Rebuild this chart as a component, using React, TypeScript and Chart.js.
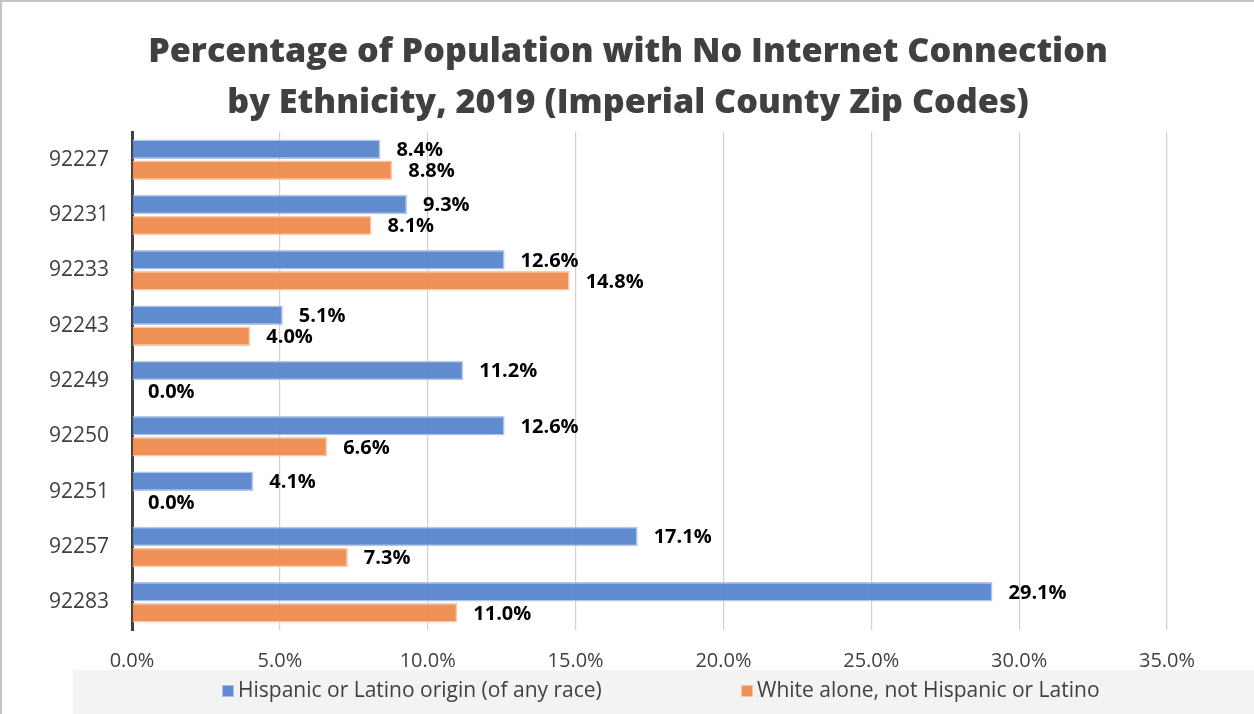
import React, { useEffect, useRef } from "react";
import { Chart, registerables } from "chart.js";

Chart.register(...registerables);

const zipCodes = ["92227", "92231", "92233", "92243", "92249", "92250", "92251", "92257", "92283"];
const hispanicValues = [8.4, 9.3, 12.6, 5.1, 11.2, 12.6, 4.1, 17.1, 29.1];
const whiteValues = [8.8, 8.1, 14.8, 4.0, 0.0, 6.6, 0.0, 7.3, 11.0];
const seriesNames = ["Hispanic or Latino origin (of any race)", "White alone, not Hispanic or Latino"];
const titleLines = ["Percentage of Population with No Internet Connection", "by Ethnicity, 2019 (Imperial County Zip Codes)"];

const W = 1254;
const H = 714;
const FONT = "'Open Sans', 'Liberation Sans', sans-serif";
const BLUE = "rgba(91,134,205,0.96)";
const ORANGE = "rgba(239,142,80,0.96)";

const decorPlugin = {
  id: "decor",
  beforeDraw(chart: any) {
    const ctx = chart.ctx;
    ctx.save();
    ctx.fillStyle = "#ffffff";
    ctx.fillRect(0, 0, W, H);
    ctx.fillStyle = "#c4c4c4";
    ctx.fillRect(0, 0, W, 2);
    ctx.fillRect(0, 0, 2, H);
    // legend band
    ctx.fillStyle = "#f3f3f3";
    ctx.fillRect(73, 670, W - 73, H - 670);
    ctx.restore();
  },
  afterDraw(chart: any) {
    const ctx = chart.ctx;
    ctx.save();
    // title
    ctx.fillStyle = "#404040";
    ctx.textAlign = "center";
    ctx.textBaseline = "alphabetic";
    let size = 36;
    ctx.font = `800 ${size}px ${FONT}`;
    const w = ctx.measureText(titleLines[0]).width;
    size = size * 960 / w;
    ctx.font = `800 ${size}px ${FONT}`;
    ctx.fillText(titleLines[0], 628, 62);
    ctx.fillText(titleLines[1], 628, 113);
    // legend
    ctx.font = `21px ${FONT}`;
    ctx.textAlign = "left";
    ctx.textBaseline = "middle";
    const items = [
      { x: 222, color: BLUE, border: "#a9bfe6", text: seriesNames[0] },
      { x: 741, color: ORANGE, border: "#f6c6a4", text: seriesNames[1] },
    ];
    items.forEach((it) => {
      ctx.fillStyle = it.color;
      ctx.fillRect(it.x, 685, 12, 12);
      ctx.strokeStyle = it.border;
      ctx.lineWidth = 1;
      ctx.strokeRect(it.x + 0.5, 685.5, 11, 11);
      ctx.fillStyle = "#404040";
      ctx.fillText(it.text, it.x + 16, 691);
    });
    ctx.restore();
  },
  afterDatasetsDraw(chart: any) {
    const ctx = chart.ctx;
    ctx.save();
    ctx.font = `bold 20px ${FONT}`;
    ctx.fillStyle = "#000000";
    ctx.textAlign = "left";
    ctx.textBaseline = "middle";
    chart.data.datasets.forEach((ds: any, di: number) => {
      const meta = chart.getDatasetMeta(di);
      meta.data.forEach((bar: any, i: number) => {
        const v = ds.data[i] as number;
        ctx.fillText(v.toFixed(1) + "%", bar.x + 16, bar.y + 1);
      });
    });
    ctx.restore();
  },
};

export default function App() {
  const ref = useRef<HTMLCanvasElement | null>(null);
  useEffect(() => {
    if (!ref.current) return;
    const chart = new Chart(ref.current, {
      type: "bar",
      data: {
        labels: zipCodes,
        datasets: [
          {
            label: seriesNames[0],
            data: hispanicValues,
            backgroundColor: BLUE,
            borderColor: "rgba(170,192,232,0.9)",
            borderWidth: 1.5,
            categoryPercentage: 0.76,
            barPercentage: 0.93,
          },
          {
            label: seriesNames[1],
            data: whiteValues,
            backgroundColor: ORANGE,
            borderColor: "rgba(247,196,160,0.9)",
            borderWidth: 1.5,
            categoryPercentage: 0.76,
            barPercentage: 0.93,
          },
        ],
      },
      options: {
        indexAxis: "y",
        responsive: false,
        animation: false,
        layout: { padding: { top: 132, right: 87, left: 0, bottom: 39 } },
        plugins: {
          legend: { display: false },
          title: { display: false },
          tooltip: { enabled: false },
        },
        scales: {
          x: {
            min: 0,
            max: 35,
            ticks: {
              stepSize: 5,
              callback: (v: any) => Number(v).toFixed(1) + "%",
              font: { family: FONT, size: 20 },
              color: "#404040",
              padding: 19,
            },
            grid: { color: "#d0d0d0", lineWidth: 1.2, drawTicks: false },
            border: { display: false },
            afterFit: (s: any) => {
              s.height = 45;
              s.paddingLeft = 0;
              s.paddingRight = 0;
            },
          },
          y: {
            ticks: {
              font: { family: FONT, size: 21 },
              color: "#404040",
              padding: 23,
            },
            grid: { display: false, drawTicks: false },
            border: { color: "#404040", width: 3 },
            afterFit: (s: any) => {
              s.width = 132;
              s.paddingTop = 0;
              s.paddingBottom = 0;
            },
          },
        },
      },
      plugins: [decorPlugin],
    });
    return () => chart.destroy();
  }, []);
  return (
    <div style={{ position: "fixed", left: 0, top: 0, width: W, height: H, background: "#fff" }}>
      <canvas ref={ref} width={W} height={H} style={{ width: W, height: H, display: "block" }} />
    </div>
  );
}
